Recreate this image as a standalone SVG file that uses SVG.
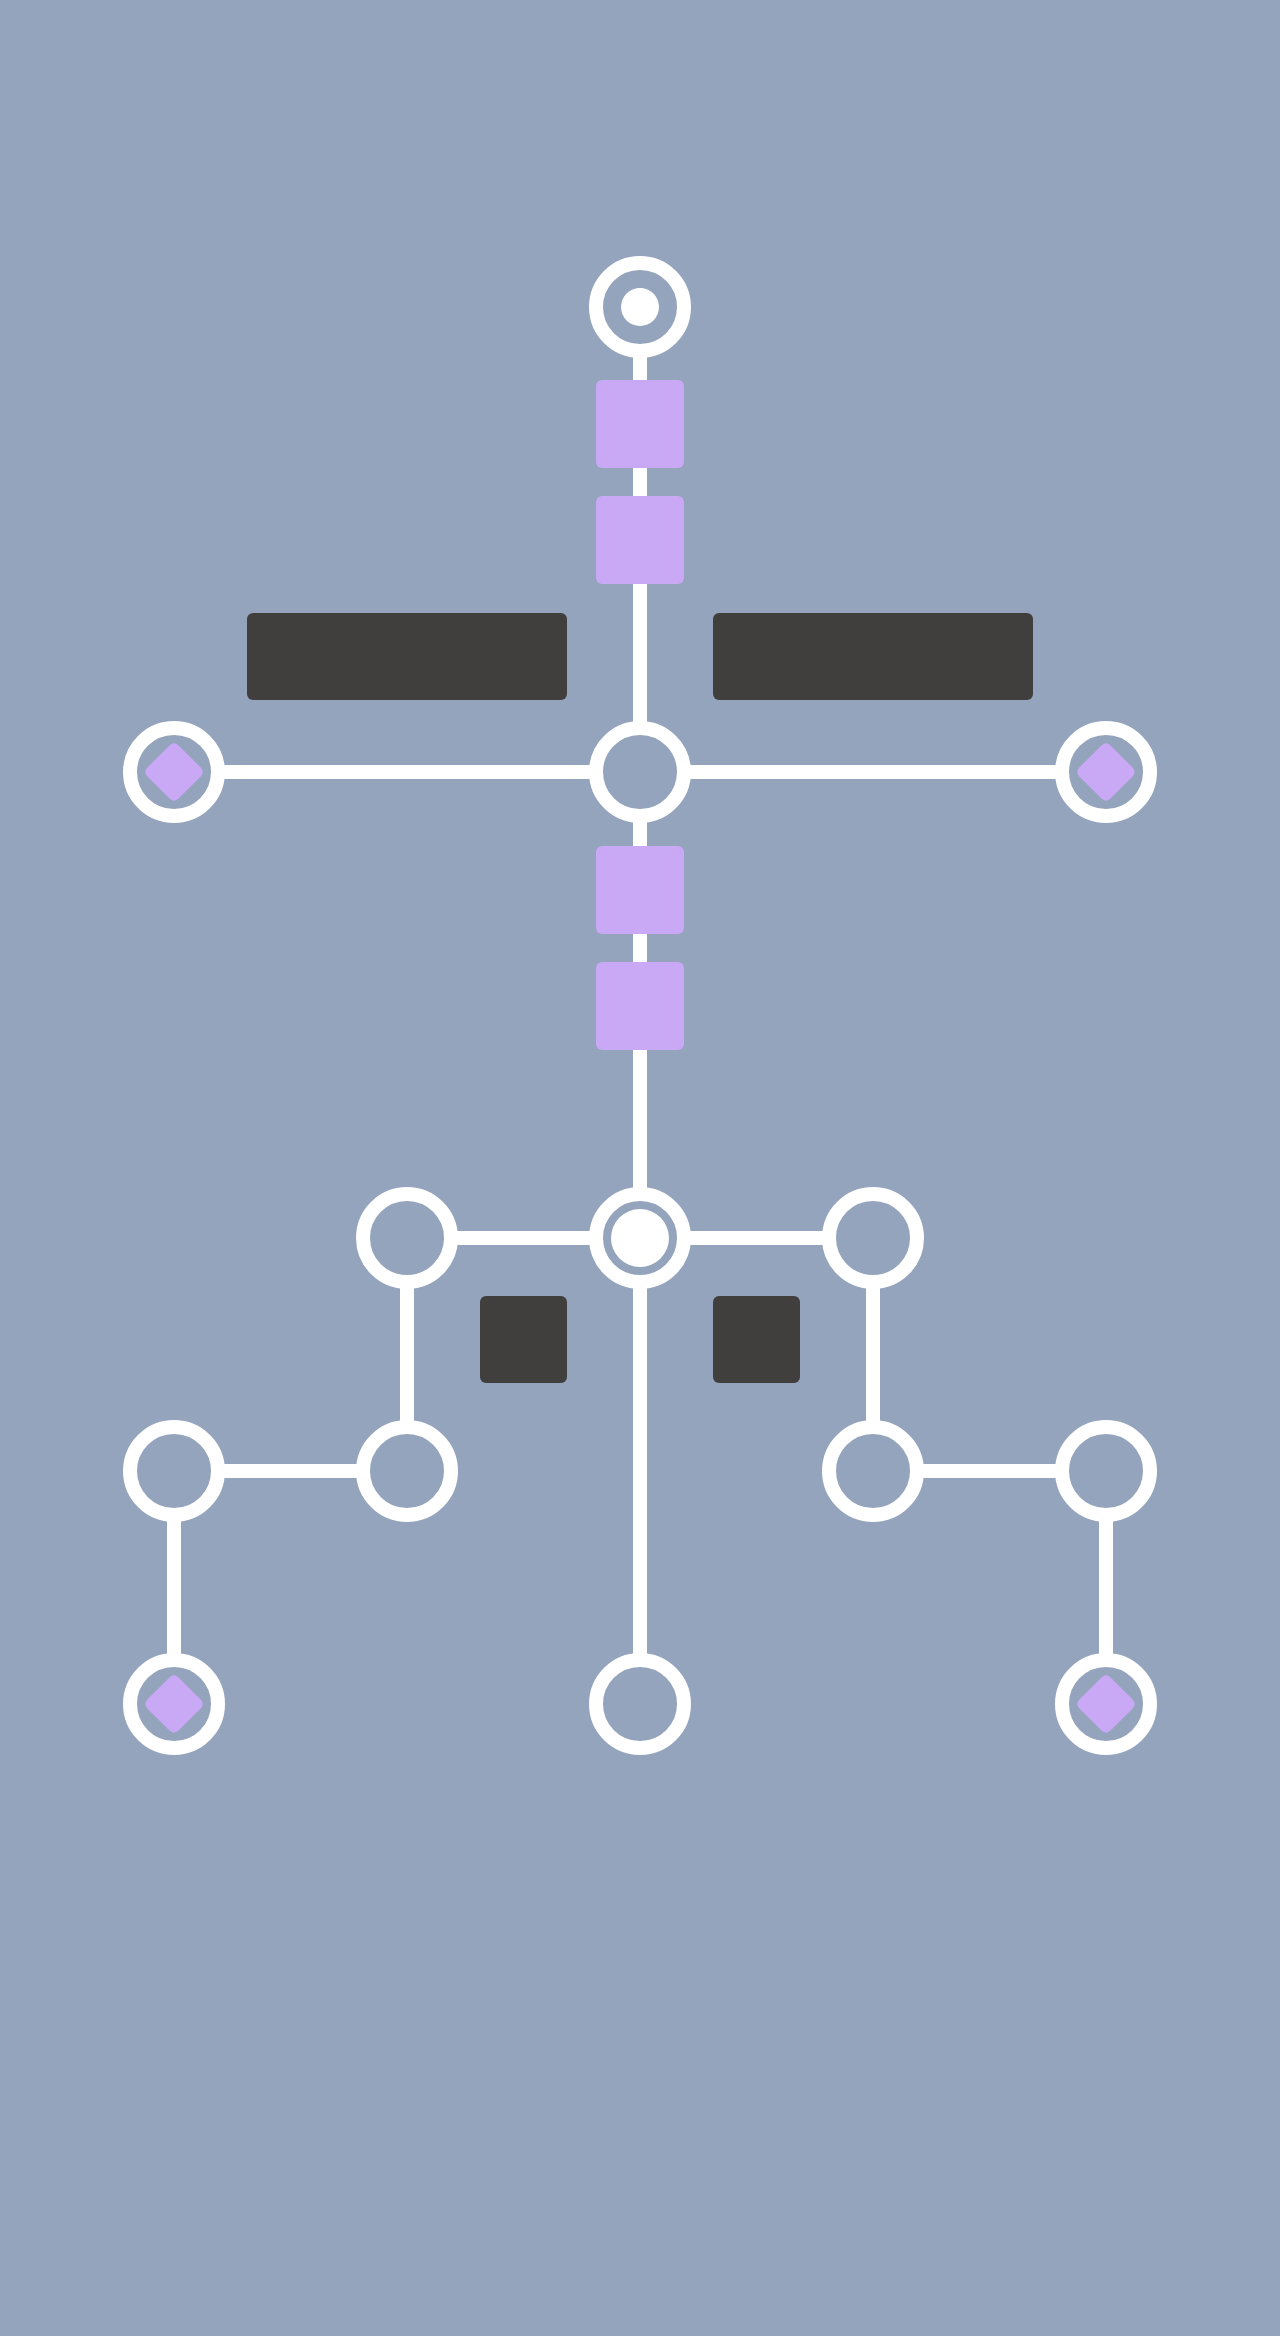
<svg xmlns="http://www.w3.org/2000/svg" width="1280" height="2336" viewBox="0 0 1280 2336">
<style>
.edge{stroke:#ffffff;stroke-width:14;fill:none;stroke-linecap:butt}
.ring{fill:#94a4bc;stroke:#ffffff;stroke-width:14}
.dot{fill:#ffffff}
.tag{fill:#c9a9f5}
.dark{fill:#413f3e}
</style>
<rect x="0" y="0" width="1280" height="2336" fill="#94a4bc"/>
<g id="connectors">
<line class="edge" x1="640" y1="307" x2="640" y2="772"/>
<line class="edge" x1="174" y1="772" x2="1106" y2="772"/>
<line class="edge" x1="640" y1="772" x2="640" y2="1238"/>
<line class="edge" x1="407" y1="1238" x2="873" y2="1238"/>
<line class="edge" x1="640" y1="1238" x2="640" y2="1704"/>
<polyline class="edge" points="407,1238 407,1471 174,1471 174,1704"/>
<polyline class="edge" points="873,1238 873,1471 1106,1471 1106,1704"/>
</g>
<g id="edge-tags">
<rect class="tag" x="596" y="380" width="88" height="88" rx="6"/>
<rect class="tag" x="596" y="496" width="88" height="88" rx="6"/>
<rect class="tag" x="596" y="846" width="88" height="88" rx="6"/>
<rect class="tag" x="596" y="962" width="88" height="88" rx="6"/>
</g>
<g id="labels">
<rect class="dark" x="247" y="613" width="320" height="87" rx="6"/>
<rect class="dark" x="713" y="613" width="320" height="87" rx="6"/>
<rect class="dark" x="480" y="1296" width="87" height="87" rx="6"/>
<rect class="dark" x="713" y="1296" width="87" height="87" rx="6"/>
</g>
<g id="node-start"><circle class="ring" cx="640" cy="307" r="44"/><circle class="dot" cx="640" cy="307" r="19"/></g>
<g id="node-hub"><circle class="ring" cx="640" cy="772" r="44"/></g>
<g id="node-left-end"><circle class="ring" cx="174" cy="772" r="44"/><rect class="tag" x="152" y="750" width="44" height="44" rx="6" transform="rotate(45 174 772)"/></g>
<g id="node-right-end"><circle class="ring" cx="1106" cy="772" r="44"/><rect class="tag" x="1084" y="750" width="44" height="44" rx="6" transform="rotate(45 1106 772)"/></g>
<g id="node-junction"><circle class="ring" cx="640" cy="1238" r="44"/><circle class="dot" cx="640" cy="1238" r="29"/></g>
<g id="node-l1"><circle class="ring" cx="407" cy="1238" r="44"/></g>
<g id="node-r1"><circle class="ring" cx="873" cy="1238" r="44"/></g>
<g id="node-l2"><circle class="ring" cx="407" cy="1471" r="44"/></g>
<g id="node-l3"><circle class="ring" cx="174" cy="1471" r="44"/></g>
<g id="node-r2"><circle class="ring" cx="873" cy="1471" r="44"/></g>
<g id="node-r3"><circle class="ring" cx="1106" cy="1471" r="44"/></g>
<g id="node-l4"><circle class="ring" cx="174" cy="1704" r="44"/><rect class="tag" x="152" y="1682" width="44" height="44" rx="6" transform="rotate(45 174 1704)"/></g>
<g id="node-bottom"><circle class="ring" cx="640" cy="1704" r="44"/></g>
<g id="node-r4"><circle class="ring" cx="1106" cy="1704" r="44"/><rect class="tag" x="1084" y="1682" width="44" height="44" rx="6" transform="rotate(45 1106 1704)"/></g>
</svg>
